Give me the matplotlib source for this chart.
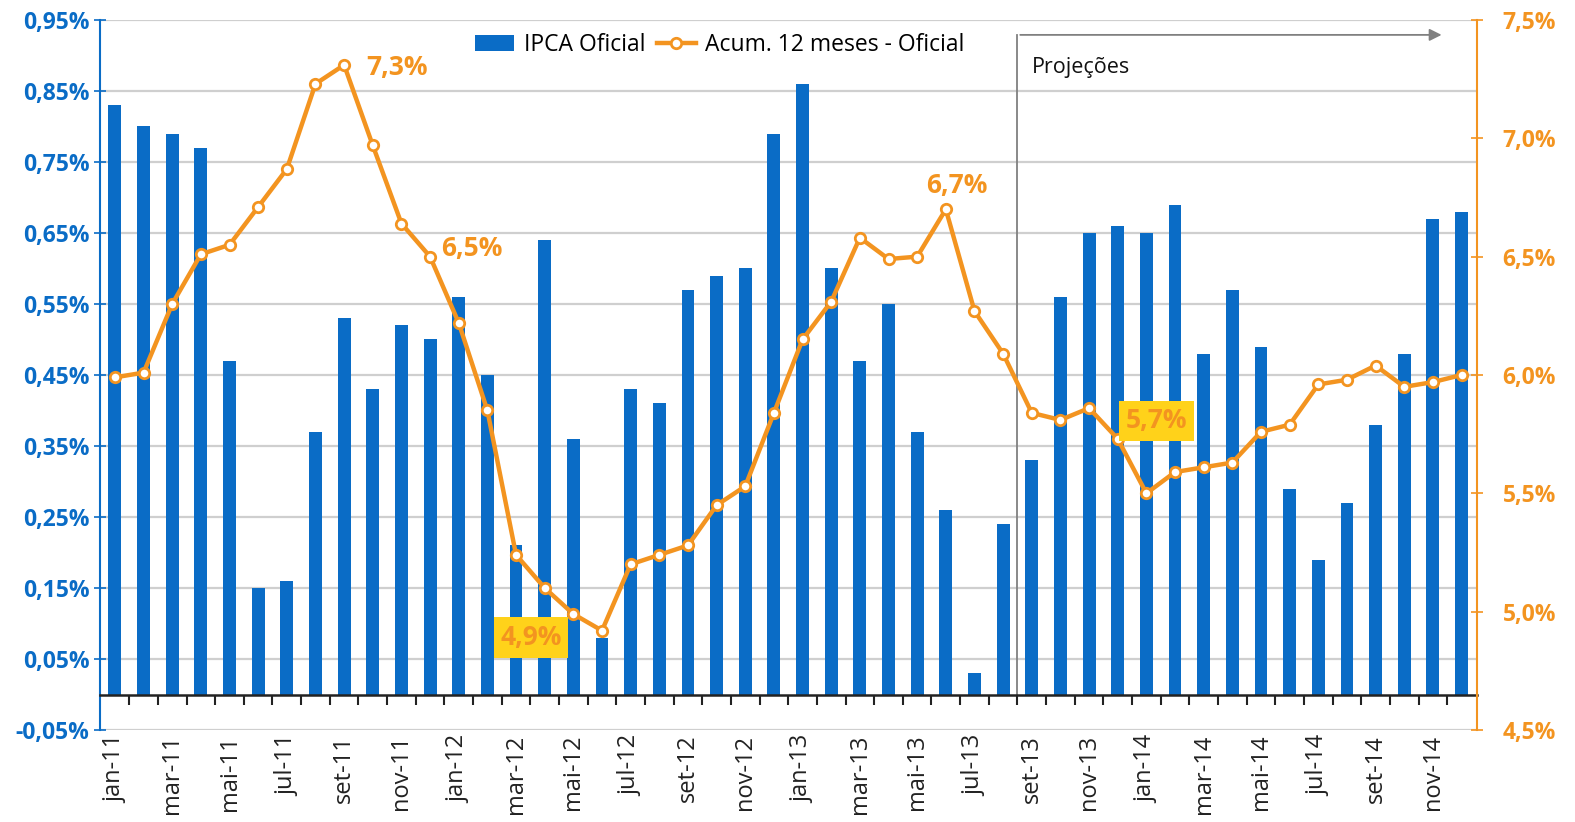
import numpy as np
import matplotlib
matplotlib.use('Agg')
from matplotlib import pyplot as plt
from matplotlib.lines import Line2D
from matplotlib.patches import Patch

''' Data '''
months = ['jan', 'fev', 'mar', 'abr', 'mai', 'jun', 'jul', 'ago', 'set', 'out', 'nov', 'dez']
years = ['11', '12', '13', '14']
month_labels = [m + '-' + y for y in years for m in months]

ipca_monthly = [0.83, 0.80, 0.79, 0.77, 0.47, 0.15, 0.16, 0.37, 0.53, 0.43, 0.52, 0.50,
                0.56, 0.45, 0.21, 0.64, 0.36, 0.08, 0.43, 0.41, 0.57, 0.59, 0.60, 0.79,
                0.86, 0.60, 0.47, 0.55, 0.37, 0.26, 0.03, 0.24, 0.33, 0.56, 0.65, 0.66,
                0.65, 0.69, 0.48, 0.57, 0.49, 0.29, 0.19, 0.27, 0.38, 0.48, 0.67, 0.68]
ipca_12m = [5.99, 6.01, 6.30, 6.51, 6.55, 6.71, 6.87, 7.23, 7.31, 6.97, 6.64, 6.50,
            6.22, 5.85, 5.24, 5.10, 4.99, 4.92, 5.20, 5.24, 5.28, 5.45, 5.53, 5.84,
            6.15, 6.31, 6.58, 6.49, 6.50, 6.70, 6.27, 6.09, 5.84, 5.81, 5.86, 5.73,
            5.50, 5.59, 5.61, 5.63, 5.76, 5.79, 5.96, 5.98, 6.04, 5.95, 5.97, 6.00]

left_ticks = [-0.05, 0.05, 0.15, 0.25, 0.35, 0.45, 0.55, 0.65, 0.75, 0.85, 0.95]
right_ticks = [4.5, 5.0, 5.5, 6.0, 6.5, 7.0, 7.5]

# (month index, text, offset in points, boxed)
callouts = [(8, '7,3%', (16, -2), False),
            (11, '6,5%', (8, 6), False),
            (29, '6,7%', (8, 17), False),
            (17, '4,9%', (-51, -5), True),
            (35, '5,7%', (28, 13), True)]
proj_start = 32  # set-13
legend_names = ['IPCA Oficial', 'Acum. 12 meses - Oficial']

''' Plot knobs '''
blue = '#0a6cc6'
orange = '#f39420'
yellow = '#ffd21a'
grid_color = '#cfcfcf'
font = 'Open Sans'
plt.rcParams['font.family'] = [font, 'DejaVu Sans']

fig = plt.figure(figsize=(15.75, 8.22), dpi=100)
ax = fig.add_axes([0.0635, 0.1119, 0.8743, 0.8638])
ax2 = ax.twinx()

x = np.arange(len(month_labels))

''' bars '''
bars = ax.bar(x, ipca_monthly, width=0.45, color=blue, zorder=2)
ax.set_ylim(-0.05, 0.95)
ax.set_xlim(-0.52, 47.54)
ax.set_yticks(left_ticks)
ax.set_yticklabels(['{:.2f}%'.format(v).replace('.', ',') for v in left_ticks],
                   color=blue, fontsize=16.5, fontweight='bold')
ax.tick_params(axis='y', direction='inout', length=9, width=1.2, color=blue, pad=3)
ax.yaxis.grid(True, color=grid_color, linewidth=1.6)
ax.set_axisbelow(True)

''' spines, x axis at zero '''
ax.spines['top'].set_visible(False)
ax2.spines['top'].set_visible(False)
ax.spines['left'].set_color(blue)
ax.spines['left'].set_linewidth(1.5)
ax2.spines['left'].set_visible(False)
ax2.spines['right'].set_color(orange)
ax2.spines['right'].set_linewidth(1.5)
ax.spines['right'].set_visible(False)
ax.spines['bottom'].set_position(('data', 0))
ax.spines['bottom'].set_color('#222222')
ax.spines['bottom'].set_linewidth(1.8)
ax2.spines['bottom'].set_visible(False)

ax.set_xticks(x[::2])
ax.set_xticklabels(month_labels[::2], rotation=90, fontsize=17, color='#222222')
ax.set_xticks(x[:-1] + 0.5, minor=True)
ax.tick_params(axis='x', which='major', length=0, pad=29)
ax.tick_params(axis='x', which='minor', direction='out', length=7, width=1.5, color='#222222')

''' line '''
line, = ax2.plot(x, ipca_12m, color=orange, linewidth=3.2, marker='o', markersize=7.5,
                 markerfacecolor='white', markeredgecolor=orange, markeredgewidth=2, zorder=5)
ax2.set_ylim(4.5, 7.5)
ax2.set_yticks(right_ticks)
ax2.set_yticklabels(['{:.1f}%'.format(v).replace('.', ',') for v in right_ticks],
                    color=orange, fontsize=16.5, fontweight='bold')
ax2.tick_params(axis='y', direction='inout', length=9, width=1.2, color=orange, pad=14)

''' callouts '''
for idx, txt, off, boxed in callouts:
    if boxed:
        ax2.annotate(txt, xy=(x[idx], ipca_12m[idx]), xytext=off, textcoords='offset points',
                     ha='center', va='center', fontsize=19, fontweight='bold', color=orange,
                     bbox=dict(boxstyle='square,pad=0.25', facecolor=yellow, edgecolor='none'),
                     zorder=6)
    else:
        ax2.annotate(txt, xy=(x[idx], ipca_12m[idx]), xytext=off, textcoords='offset points',
                     ha='left' if off[1] < 10 else 'center', va='center', fontsize=19,
                     fontweight='bold', color=orange, zorder=6)

''' projections marker '''
px = proj_start - 0.5
ax.plot([px, px], [0, 0.929], color='#808080', linewidth=1.3, zorder=1)
ax.annotate('', xy=(46.4, 0.929), xytext=(px, 0.929),
            arrowprops=dict(arrowstyle='-|>', color='#808080', linewidth=1.3, mutation_scale=18))
ax.text(px + 0.52, 0.883, 'Projeções', fontsize=15.5, color='#111111', va='center', ha='left')

''' legend '''
h_bar = Patch(facecolor=blue, edgecolor='none')
h_line = Line2D([], [], color=orange, linewidth=3.2, marker='o', markersize=7.5,
                markerfacecolor='white', markeredgecolor=orange, markeredgewidth=2)
fig.legend([h_bar, h_line], legend_names, loc='center', bbox_to_anchor=(0.457, 0.945),
           ncol=2, frameon=False, fontsize=16.5, handlelength=1.7, handletextpad=0.4,
           columnspacing=0.5)

fig.savefig('out.png', dpi=100)
